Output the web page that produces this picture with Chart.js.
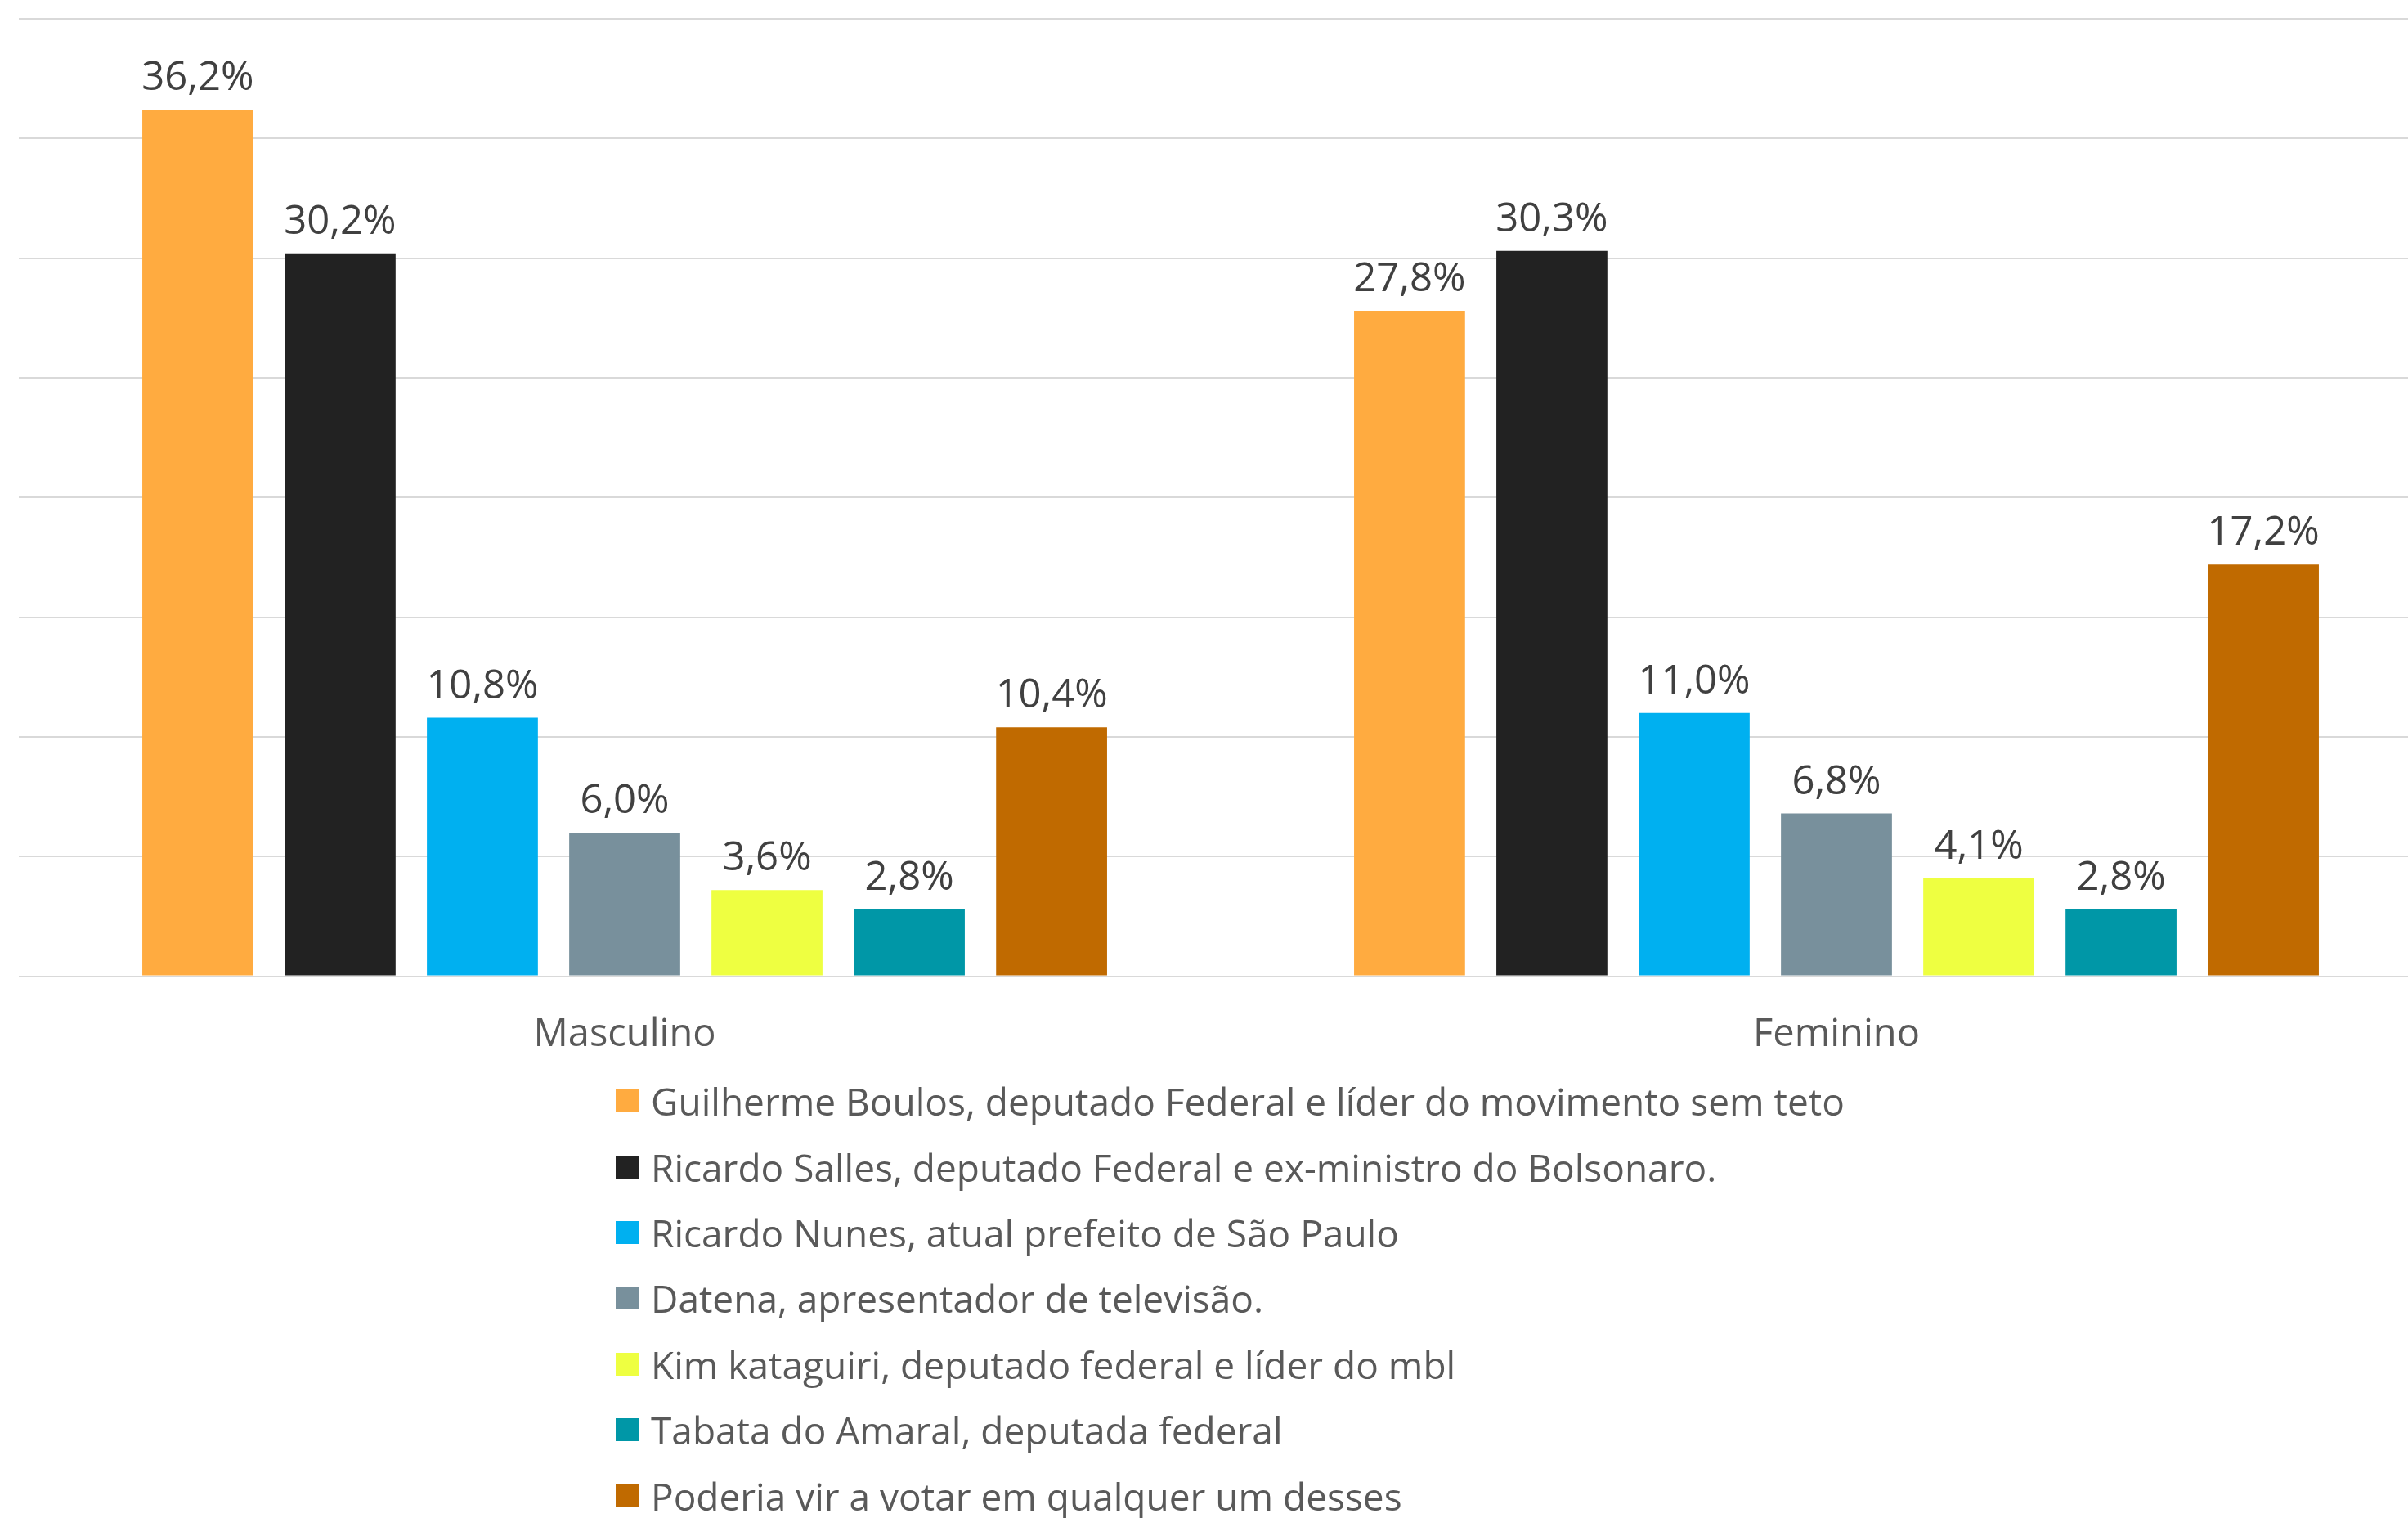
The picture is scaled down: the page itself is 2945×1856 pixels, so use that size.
<!DOCTYPE html>
<html>
<head>
<meta charset="utf-8">
<script src="https://cdn.jsdelivr.net/npm/chart.js@4/dist/chart.umd.min.js"></script>
<style>
    html, body { margin: 0; padding: 0; background: #fff; overflow: hidden; }
    #wrap { position: relative; width: 2945px; height: 1856px; overflow: hidden; }
    #chart { position: absolute; left: 0; top: 0; }
    #legend { position: absolute; left: 753px; top: 1306px; font-family: "Open Sans", sans-serif; font-size: 46px; color: #595959; }
    #legend .row { height: 80.4px; display: flex; align-items: center; white-space: nowrap; }
    #legend .box { width: 28px; height: 28px; margin-right: 15px; flex: none; }
</style>
</head>
<body>
<div id="wrap">
    <canvas id="chart" width="3010" height="1330"></canvas>
    <div id="legend"></div>
</div>
<script>
const groups = ['Masculino', 'Feminino'];
const candidates = [
    'Guilherme Boulos, deputado Federal e líder do movimento sem teto',
    'Ricardo Salles, deputado Federal e ex-ministro do Bolsonaro.',
    'Ricardo Nunes, atual prefeito de São Paulo',
    'Datena, apresentador de televisão.',
    'Kim kataguiri, deputado federal e líder do mbl',
    'Tabata do Amaral, deputada federal',
    'Poderia vir a votar em qualquer um desses'
];
const colors = ['#FFAB40', '#222222', '#00B0F0', '#78909C', '#EEFF41', '#0097A7', '#C06A00'];
const masculino = [36.2, 30.2, 10.8, 6.0, 3.6, 2.8, 10.4];
const feminino = [27.8, 30.3, 11.0, 6.8, 4.1, 2.8, 17.2];
const yTicks = [0, 5, 10, 15, 20, 25, 30, 35, 40];

const fmt = v => v.toFixed(1).replace('.', ',') + '%';

// percentage printed above every bar
const valueLabels = {
    id: 'valueLabels',
    afterDatasetsDraw(chart) {
        const ctx = chart.ctx;
        ctx.save();
        ctx.font = '49px "Open Sans"';
        ctx.fillStyle = '#404040';
        ctx.textAlign = 'center';
        ctx.textBaseline = 'alphabetic';
        chart.data.datasets.forEach((ds, i) => {
            chart.getDatasetMeta(i).data.forEach((bar, j) => {
                ctx.fillText(fmt(ds.data[j]), bar.x, bar.y - 24);
            });
        });
        ctx.restore();
    }
};

document.fonts.load('46px "Open Sans"').then(drawChart, drawChart);

function drawChart() {
    const datasets = candidates.map((name, i) => ({
        label: name,
        data: [masculino[i], feminino[i]],
        backgroundColor: colors[i],
        borderWidth: 0
    }));

    const chart = new Chart(document.getElementById('chart'), {
        type: 'bar',
        data: { labels: groups, datasets: datasets },
        options: {
            responsive: false,
            animation: false,
            events: [],
            categoryPercentage: 0.822,
            barPercentage: 0.78,
            layout: { padding: { left: 23, right: 23, top: 23, bottom: 0 } },
            plugins: {
                legend: { display: false },
                tooltip: { enabled: false }
            },
            scales: {
                x: {
                    grid: { display: false },
                    border: { display: false },
                    ticks: {
                        color: '#595959',
                        font: { family: 'Open Sans', size: 47 },
                        padding: 36
                    }
                },
                y: {
                    min: yTicks[0],
                    max: yTicks[yTicks.length - 1],
                    afterBuildTicks: axis => { axis.ticks = yTicks.map(v => ({ value: v })); },
                    grid: { color: '#D9D9D9', lineWidth: 2, drawTicks: false },
                    border: { display: false },
                    ticks: { display: false }
                }
            }
        },
        plugins: [valueLabels]
    });

    const legend = document.getElementById('legend');
    chart.data.datasets.forEach(ds => {
        const row = document.createElement('div');
        row.className = 'row';
        const box = document.createElement('span');
        box.className = 'box';
        box.style.background = ds.backgroundColor;
        const text = document.createElement('span');
        text.textContent = ds.label;
        row.appendChild(box);
        row.appendChild(text);
        legend.appendChild(row);
    });
}
</script>
</body>
</html>
